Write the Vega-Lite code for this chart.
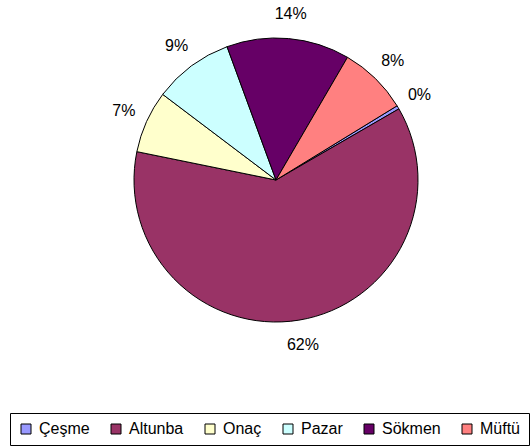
{
  "$schema": "https://vega.github.io/schema/vega-lite/v6.json",
  "width": 512,
  "height": 360,
  "padding": {"left": 20, "top": 0, "right": 0, "bottom": 87},
  "autosize": {"type": "none"},
  "background": "white",
  "config": {"view": {"stroke": null}},
  "data": {
    "values": [
      {"idx": 1, "name": "Çeşme", "share": 0.004},
      {"idx": 2, "name": "Altunba", "share": 0.6155},
      {"idx": 3, "name": "Onaç", "share": 0.071},
      {"idx": 4, "name": "Pazar", "share": 0.091},
      {"idx": 5, "name": "Sökmen", "share": 0.14},
      {"idx": 6, "name": "Müftü", "share": 0.0785}
    ]
  },
  "encoding": {
    "theta": {"field": "share", "type": "quantitative", "stack": true, "scale": {"range": [1.021, 7.3042]}},
    "order": {"field": "idx", "type": "quantitative"}
  },
  "layer": [
    {
      "mark": {"type": "arc", "outerRadius": 142, "stroke": "black", "strokeWidth": 1},
      "encoding": {
        "color": {
          "field": "name",
          "type": "nominal",
          "scale": {
            "domain": ["Çeşme", "Altunba", "Onaç", "Pazar", "Sökmen", "Müftü"],
            "range": ["#9999FF", "#993366", "#FFFFCC", "#CCFFFF", "#660066", "#FF8080"]
          },
          "legend": {
            "title": null,
            "orient": "none",
            "legendX": -10,
            "legendY": 413,
            "direction": "horizontal",
            "columns": 6,
            "gridAlign": "none",
            "padding": 8,
            "strokeColor": "black",
            "fillColor": "white",
            "symbolType": "square",
            "symbolSize": 100,
            "symbolStrokeColor": "black",
            "symbolStrokeWidth": 1,
            "symbolOpacity": 1,
            "labelFont": "Liberation Sans",
            "labelFontSize": 16,
            "labelColor": "black",
            "labelOffset": 5,
            "columnPadding": 18,
            "labelLimit": 200
          }
        }
      }
    },
    {
      "mark": {"type": "text", "radius": 167, "font": "Liberation Sans", "fontSize": 16, "color": "black", "align": "center", "baseline": "middle"},
      "encoding": {
        "text": {"field": "share", "type": "quantitative", "format": ".0%"}
      }
    }
  ]
}
